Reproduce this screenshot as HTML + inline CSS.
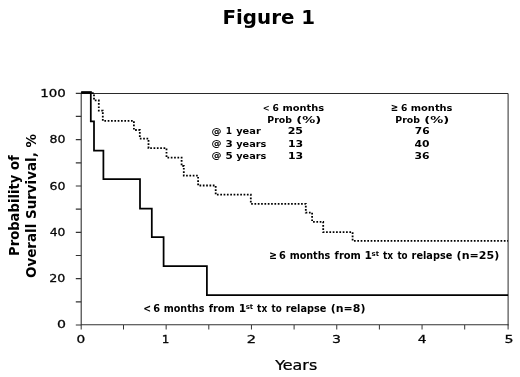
<!DOCTYPE html>
<html><head><meta charset="utf-8"><title>Figure 1</title>
<style>html,body{margin:0;padding:0;background:#fff}svg{display:block}text{font-family:"DejaVu Sans","Liberation Sans",sans-serif;fill:#000}.b{font-weight:bold}</style></head>
<body>
<svg width="520" height="377" viewBox="0 0 520 377">
<rect width="520" height="377" fill="#fff"/>
<g stroke="#333" stroke-width="1.2" fill="none">
<path d="M81.2,92.8 V325.0 M80.6,324.75 H508.6" stroke-width="1.1"/>
<path d="M81.2,93.5 H508.1 V325.3" stroke-width="1" stroke="#2a2a2a"/>
<path d="M75.8,325.00 H81.2 M75.8,301.83 H81.2 M75.8,278.66 H81.2 M75.8,255.49 H81.2 M75.8,232.32 H81.2 M75.8,209.15 H81.2 M75.8,185.98 H81.2 M75.8,162.81 H81.2 M75.8,139.64 H81.2 M75.8,116.47 H81.2 M75.8,93.30 H81.2 "/>
<path d="M81.20,325 V329.5 M123.50,325 V329.5 M166.15,325 V329.5 M208.80,325 V329.5 M251.45,325 V329.5 M294.10,325 V329.5 M336.75,325 V329.5 M379.40,325 V329.5 M422.05,325 V329.5 M464.70,325 V329.5 M508.10,325 V329.5 " stroke-width="1"/>
</g>
<path d="M92.0,93.2 L94.0,93.2 L94.0,100.4 L98.8,100.4 L98.8,110.6 L102.8,110.6 L102.8,120.8 L133.9,120.8 L133.9,130.0 L139.8,130.0 L139.8,138.6 L148.5,138.6 L148.5,148.2 L166.5,148.2 L166.5,157.6 L181.6,157.6 L181.6,166.0 L183.8,166.0 L183.8,175.6 L198.1,175.6 L198.1,185.5 L215.7,185.5 L215.7,194.7 L250.8,194.7 L250.8,203.8 L305.8,203.8 L305.8,212.6 L312.1,212.6 L312.1,221.8 L323.2,221.8 L323.2,232.1 L352.6,232.1 L352.6,240.8 L508.1,240.8" fill="none" stroke="#000" stroke-width="1.8" stroke-dasharray="1.7 1.63"/>
<path d="M81.2,92.6 L90.8,92.6 L90.8,121.4 L94.0,121.4 L94.0,150.6 L103.4,150.6 L103.4,179.0 L140.0,179.0 L140.0,208.6 L151.8,208.6 L151.8,237.2 L163.6,237.2 L163.6,266.0 L206.9,266.0 L206.9,295.2 L508.1,295.2" fill="none" stroke="#000" stroke-width="1.75" stroke-linejoin="miter"/>
<path d="M81.2,92.5 H91.8" stroke="#000" stroke-width="2.6"/>
<text class="b" transform="translate(222.51,24.20) scale(1.0078,1.0)" font-size="19.7">Figure 1</text>
<text transform="translate(275.16,369.70) scale(1.1997,1.0)" font-size="13.3" stroke="#000" stroke-width="0.25">Years</text>
<text class="b" transform="translate(18.80,255.99) rotate(-90) scale(0.9909,1.0)" font-size="13.3">Probability of</text>
<text class="b" transform="translate(35.90,278.04) rotate(-90) scale(1.0127,1.0)" font-size="13.3">Overall Survival, %</text>
<text transform="translate(56.95,328.40) scale(1.2605,1.0)" font-size="11.2" fill="#111" stroke="#111" stroke-width="0.3">0</text>
<text transform="translate(49.31,282.20) scale(1.1316,1.0)" font-size="11.2" fill="#111" stroke="#111" stroke-width="0.3">20</text>
<text transform="translate(49.71,235.50) scale(1.1025,1.0)" font-size="11.2" fill="#111" stroke="#111" stroke-width="0.3">40</text>
<text transform="translate(49.45,189.90) scale(1.1217,1.0)" font-size="11.2" fill="#111" stroke="#111" stroke-width="0.3">60</text>
<text transform="translate(49.45,143.05) scale(1.1217,1.0)" font-size="11.2" fill="#111" stroke="#111" stroke-width="0.3">80</text>
<text transform="translate(40.26,96.80) scale(1.1990,1.0)" font-size="11.2" fill="#111" stroke="#111" stroke-width="0.3">100</text>
<text transform="translate(76.48,343.20) scale(1.2255,1.0)" font-size="11.2" fill="#111" stroke="#111" stroke-width="0.3">0</text>
<text transform="translate(161.80,343.20) scale(1.0714,1.0)" font-size="11.2" fill="#111" stroke="#111" stroke-width="0.3">1</text>
<text transform="translate(246.72,343.20) scale(1.3108,1.0)" font-size="11.2" fill="#111" stroke="#111" stroke-width="0.3">2</text>
<text transform="translate(331.96,343.20) scale(1.2573,1.0)" font-size="11.2" fill="#111" stroke="#111" stroke-width="0.3">3</text>
<text transform="translate(417.75,343.20) scale(1.2338,1.0)" font-size="11.2" fill="#111" stroke="#111" stroke-width="0.3">4</text>
<text transform="translate(504.41,343.20) scale(1.2649,1.0)" font-size="11.2" fill="#111" stroke="#111" stroke-width="0.3">5</text>
<text class="b" transform="translate(262.87,110.50) scale(0.8810,1.0)" font-size="9.4">&lt;</text>
<text class="b" transform="translate(272.55,110.50) scale(0.9737,1.0)" font-size="9.4">6</text>
<text class="b" transform="translate(282.51,110.50) scale(1.0506,1.0)" font-size="9.4">months</text>
<text class="b" transform="translate(267.26,122.80) scale(0.9988,1.0)" font-size="9.4">Prob</text>
<text class="b" transform="translate(296.26,122.80) scale(1.3850,1.0)" font-size="9.4">(%)</text>
<text class="b" transform="translate(390.81,110.50) scale(0.9475,1.15)" font-size="9.4">≥</text>
<text class="b" transform="translate(400.95,110.50) scale(0.9737,1.0)" font-size="9.4">6</text>
<text class="b" transform="translate(410.81,110.50) scale(1.0506,1.0)" font-size="9.4">months</text>
<text class="b" transform="translate(395.26,122.80) scale(0.9988,1.0)" font-size="9.4">Prob</text>
<text class="b" transform="translate(424.26,122.80) scale(1.3850,1.0)" font-size="9.4">(%)</text>
<text class="b" transform="translate(211.40,133.80) scale(1.0638,0.9)" font-size="9.4">@</text>
<text class="b" transform="translate(225.71,134.30) scale(0.9615,1.0)" font-size="9.4">1</text>
<text class="b" transform="translate(236.20,134.30) scale(1.0447,1.0)" font-size="9.4">year</text>
<text class="b" transform="translate(211.40,146.00) scale(1.0638,0.9)" font-size="9.4">@</text>
<text class="b" transform="translate(225.58,146.50) scale(1.1018,1.0)" font-size="9.4">3</text>
<text class="b" transform="translate(236.20,146.50) scale(1.0365,1.0)" font-size="9.4">years</text>
<text class="b" transform="translate(211.40,158.10) scale(1.0638,0.9)" font-size="9.4">@</text>
<text class="b" transform="translate(225.47,158.60) scale(1.1018,1.0)" font-size="9.4">5</text>
<text class="b" transform="translate(236.20,158.60) scale(1.0365,1.0)" font-size="9.4">years</text>
<text class="b" transform="translate(287.63,134.30) scale(1.1775,1.0)" font-size="9.4">25</text>
<text class="b" transform="translate(287.90,146.50) scale(1.1646,1.0)" font-size="9.4">13</text>
<text class="b" transform="translate(287.90,158.60) scale(1.1646,1.0)" font-size="9.4">13</text>
<text class="b" transform="translate(414.76,134.30) scale(1.1335,1.0)" font-size="9.4">76</text>
<text class="b" transform="translate(414.57,146.50) scale(1.1487,1.0)" font-size="9.4">40</text>
<text class="b" transform="translate(414.55,158.60) scale(1.1500,1.0)" font-size="9.4">36</text>
<text class="b" transform="translate(143.26,311.90) scale(0.9375,1.0)" font-size="10.0">&lt;</text>
<text class="b" transform="translate(153.21,311.90) scale(0.9831,1.0)" font-size="10.0">6</text>
<text class="b" transform="translate(163.73,311.90) scale(0.9632,1.0)" font-size="10.0">months</text>
<text class="b" transform="translate(208.70,311.90) scale(0.9863,1.0)" font-size="10.0">from</text>
<text class="b" transform="translate(238.72,311.90) scale(1.0769,1.0)" font-size="10.0">1</text>
<text class="b" transform="translate(245.65,308.70) scale(1.0092,1.0)" font-size="6.9">st</text>
<text class="b" transform="translate(257.11,311.90) scale(0.9107,1.0)" font-size="10.0">tx</text>
<text class="b" transform="translate(271.51,311.90) scale(0.8765,1.0)" font-size="10.0">to</text>
<text class="b" transform="translate(285.72,311.90) scale(0.9753,1.0)" font-size="10.0">relapse</text>
<text class="b" transform="translate(330.72,311.90) scale(1.0990,1.0)" font-size="10.0">(n=8)</text>
<text class="b" transform="translate(269.16,258.80) scale(0.9375,1.15)" font-size="10.0">≥</text>
<text class="b" transform="translate(279.11,258.80) scale(0.9831,1.0)" font-size="10.0">6</text>
<text class="b" transform="translate(289.63,258.80) scale(0.9632,1.0)" font-size="10.0">months</text>
<text class="b" transform="translate(334.60,258.80) scale(0.9863,1.0)" font-size="10.0">from</text>
<text class="b" transform="translate(364.62,258.80) scale(1.0769,1.0)" font-size="10.0">1</text>
<text class="b" transform="translate(371.55,255.60) scale(1.0092,1.0)" font-size="6.9">st</text>
<text class="b" transform="translate(383.01,258.80) scale(0.9107,1.0)" font-size="10.0">tx</text>
<text class="b" transform="translate(397.41,258.80) scale(0.8765,1.0)" font-size="10.0">to</text>
<text class="b" transform="translate(411.62,258.80) scale(0.9753,1.0)" font-size="10.0">relapse</text>
<text class="b" transform="translate(456.61,258.80) scale(1.1086,1.0)" font-size="10.0">(n=25)</text>
</svg>
</body></html>
